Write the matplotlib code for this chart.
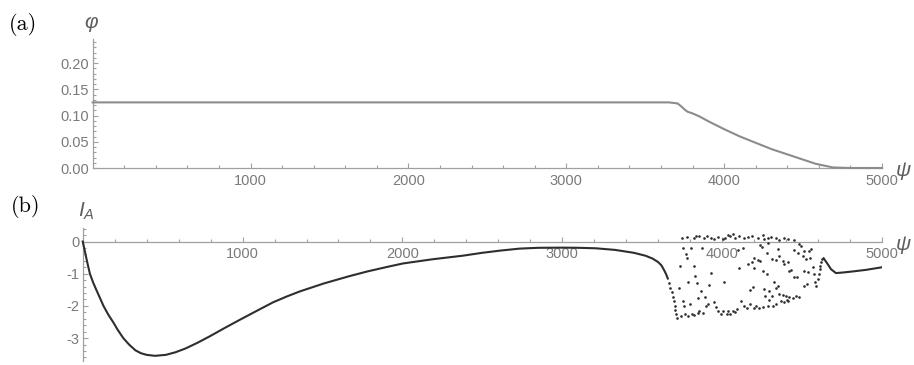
import numpy as np
import matplotlib
matplotlib.use("Agg")
import matplotlib.pyplot as plt
from matplotlib.ticker import FixedLocator, FormatStrFormatter

plt.rcParams['font.family'] = ['Liberation Sans', 'DejaVu Sans']
plt.rcParams['mathtext.fontset'] = 'custom'
plt.rcParams['mathtext.it'] = 'Liberation Sans:italic'
plt.rcParams['mathtext.rm'] = 'Liberation Sans'

# --- data ---
# (a) phi vs psi
phi_psi = [0, 3650, 3705, 3730, 3755, 3770, 3800, 3845, 3900, 4000, 4100,
           4200, 4300, 4400, 4500, 4580, 4690, 4800, 5000]
phi_val = [0.125, 0.125, 0.123, 0.117, 0.110, 0.107, 0.104, 0.098, 0.089, 0.074, 0.060,
           0.048, 0.036, 0.026, 0.016, 0.008, 0.001, 0.0, 0.0]

# (b) I_A vs psi, smooth part
ia_psi = [0, 10, 20, 30, 45, 65, 85, 105, 130, 160, 190, 220, 254, 290, 330, 365, 400,
          452, 520, 580, 644, 720, 800, 890, 987, 1090, 1190, 1275, 1358, 1510, 1665,
          1780, 1903, 2005, 2190, 2378, 2500, 2615, 2734, 2850, 3000, 3100, 3209, 3330,
          3447, 3520, 3565, 3600, 3620, 3637, 3650, 3660]
ia_val = [0, -0.22, -0.45, -0.68, -1.0, -1.27, -1.5, -1.72, -2.0, -2.27, -2.5, -2.75, -3.0,
          -3.2, -3.38, -3.47, -3.52, -3.55, -3.52, -3.44, -3.32, -3.14, -2.93, -2.68, -2.42,
          -2.15, -1.89, -1.71, -1.55, -1.30, -1.08, -0.93, -0.79, -0.68, -0.55, -0.44, -0.35,
          -0.28, -0.22, -0.195, -0.19, -0.195, -0.21, -0.26, -0.35, -0.44, -0.53, -0.64,
          -0.74, -0.89, -1.02, -1.15]

# (b) scattered samples in the irregular stretch
dot_psi = [3668, 3676, 3685, 3691, 3697, 3702, 3706, 3712, 3716,
           3747, 3781, 3822, 3837, 3858, 3885, 3906, 3931, 3951, 3972, 4004, 4018, 4035, 4051,
           4066, 4081, 4108, 4139, 4160, 4185,
           4222, 4254, 4264, 4285, 4306, 4337, 4358, 4385, 4410, 4451, 4483, 4493,
           3754, 3774, 3781, 3806, 3872, 4101, 4128, 4160, 4185, 4197, 4239, 4247, 4289, 4347,
           4451, 4472, 4504, 4514, 4545, 4556,
           3739, 3733, 3754, 3764, 3768, 3789, 3801, 3810, 3822, 3831, 3843, 3847, 3858, 3868,
           3893, 3899, 3914, 3920, 3931, 3951, 3962, 3972, 3993, 4004, 4014, 4031, 4039, 4051,
           4066, 4081, 4093, 4108, 4118, 4139, 4156, 4176, 4191, 4197,
           4226, 4239, 4281, 4310, 4337, 4358, 4379, 4389, 4410, 4524, 4551, 4566, 4202, 4254,
           4281, 4420, 4431, 4451, 4468, 4514, 4535, 4572, 4581, 4514, 4531, 4326, 4347, 4337,
           4264, 4295, 4268, 4310, 4358, 4379, 4399, 4420, 4441, 4462, 4483, 4368, 4385, 4406,
           4414, 4176, 4212, 4233, 4254, 4285, 4316, 4337, 4295,
           3740, 3785, 3827, 3848, 3880,
           4587, 4597, 4604, 4610, 4614, 4618, 4626]
dot_val = [-1.30, -1.43, -1.58, -1.72, -1.86, -2.00, -2.13, -2.26, -2.36,
           0.10, 0.14, 0.12, 0.17, 0.18, 0.12, 0.17, 0.10, 0.07, 0.14, 0.07, 0.12, 0.21, 0.18,
           0.23, 0.12, 0.18, 0.12, 0.14, 0.18,
           0.12, 0.21, 0.07, 0.12, 0.14, 0.10, 0.04, 0.12, 0.07, 0.04, -0.08, -0.13,
           -0.21, -0.39, -0.50, -0.19, -0.21, -0.27, -0.19, -0.70, -0.65, -0.50, -0.10, -0.17, -0.06, -0.24,
           -0.27, -0.37, -0.45, -0.29, -0.29, -0.24,
           -0.76, -1.43, -1.84, -2.00, -2.26, -1.27, -1.95, -2.24, -0.76, -1.07, -1.30, -1.74, -2.17, -1.53,
           -1.72, -2.00, -1.95, -1.35, -0.99, -1.89, -2.03, -2.17, -2.26, -2.17, -1.27, -2.24, -2.17, -2.26,
           -2.15, -2.20, -2.10, -0.81, -1.84, -2.00, -2.07, -1.51, -1.41, -2.05,
           -0.58, -0.62, -0.37, -0.55, -0.58, -0.45, -0.60, -0.70, -0.65, -0.55, -0.50, -0.79, -0.81, -0.91,
           -1.01, -0.93, -0.89, -1.10, -1.10, -0.91, -0.96, -1.01, -1.27, -1.38, -1.33, -1.27, -1.38, -1.43,
           -1.48, -1.53, -1.69, -1.69, -1.64, -1.66, -1.69, -1.72, -1.74, -1.69, -1.72, -1.86, -1.89, -1.82,
           -1.86, -1.95, -2.00, -2.05, -2.03, -2.00, -2.00, -1.95, -1.82,
           -2.30, -2.30, -2.28, -2.22, -2.22,
           -1.38, -1.17, -1.01, -0.86, -0.76, -0.65, -0.55]

# (b) smooth tail after the irregular stretch
tail_psi = [4635, 4660, 4681, 4712, 4760, 4816, 4900, 5000]
tail_val = [-0.52, -0.70, -0.86, -0.98, -0.96, -0.93, -0.88, -0.80]

AXIS_GREY = '#a0a0a0'
TICK_TXT = '#7a7a7a'
LABEL_TXT = '#5e5e5e'


def style_axes(ax, xminor, yminor, ymajor):
    for s in ['top', 'right']:
        ax.spines[s].set_visible(False)
    for s in ['left', 'bottom']:
        ax.spines[s].set_color(AXIS_GREY)
        ax.spines[s].set_linewidth(0.9)
    ax.spines['left'].set_position(('data', 0))
    ax.set_xlim(0, 5000)
    ax.xaxis.set_major_locator(FixedLocator([1000, 2000, 3000, 4000, 5000]))
    ax.xaxis.set_minor_locator(FixedLocator(xminor))
    ax.yaxis.set_major_locator(FixedLocator(ymajor))
    ax.yaxis.set_minor_locator(FixedLocator(yminor))
    ax.tick_params(which='both', direction='in', color=AXIS_GREY, width=0.8,
                   labelcolor=TICK_TXT, labelsize=10.5)
    ax.tick_params(which='major', length=3.5)
    ax.tick_params(which='minor', length=2)
    ax.tick_params(axis='x', pad=4)
    ax.tick_params(axis='y', pad=2.5)
    ax.patch.set_alpha(0)


fig = plt.figure(figsize=(9.14, 3.65), dpi=100)
W, H = 914.0, 365.0

# --- (a) ---
ax1 = fig.add_axes([92.7 / W, (H - 168) / H, (882 - 92.7) / W, 128.6 / H])
ax1.plot(phi_psi, phi_val, color='#8c8c8c', lw=1.5, clip_on=False, zorder=3)
ax1.set_ylim(0, 0.245)
xminor = [v for v in range(200, 5000, 200) if v % 1000]
style_axes(ax1, xminor,
           [round(0.01 * k, 2) for k in range(1, 25) if k % 5],
           [0.0, 0.05, 0.10, 0.15, 0.20])
ax1.yaxis.set_major_formatter(FormatStrFormatter('%.2f'))

# --- (b) ---
ax2 = fig.add_axes([82.7 / W, (H - 361.3) / H, (882 - 82.7) / W, 133.3 / H])
ax2.plot(ia_psi, ia_val, color='#2e2e2e', lw=1.5, clip_on=False, zorder=3)
ax2.plot(dot_psi, dot_val, 'o', ms=1.9, color='#2e2e2e', mec='none', zorder=3)
ax2.plot(tail_psi, tail_val, color='#2e2e2e', lw=1.5, zorder=3)
ax2.set_ylim(-3.72, 0.42)
style_axes(ax2, xminor,
           [round(-3.6 + 0.2 * k, 1) for k in range(21) if (k + 2) % 5],
           [-3, -2, -1, 0])
ax2.spines['bottom'].set_position(('data', 0))
ax2.yaxis.set_major_formatter(FormatStrFormatter('%d'))

# --- labels ---
fig.text(23 / W, 1 - 24 / H, '(a)', family='cmr10', fontsize=16, ha='center', va='center')
fig.text(26 / W, 1 - 207 / H, '(b)', family='cmr10', fontsize=16, ha='center', va='center')
fig.text(91 / W, 1 - 22 / H, '\u03c6', style='italic', fontsize=15, color=LABEL_TXT,
         ha='center', va='center')
fig.text(86 / W, 1 - 211 / H, r'$I_A$', fontsize=15, color=LABEL_TXT, ha='center', va='center')
fig.text(903 / W, 1 - 170 / H, '\u03c8', style='italic', fontsize=15, color=LABEL_TXT,
         ha='center', va='center')
fig.text(903 / W, 1 - 245 / H, '\u03c8', style='italic', fontsize=15, color=LABEL_TXT,
         ha='center', va='center')

fig.savefig('out.png', dpi=100)
